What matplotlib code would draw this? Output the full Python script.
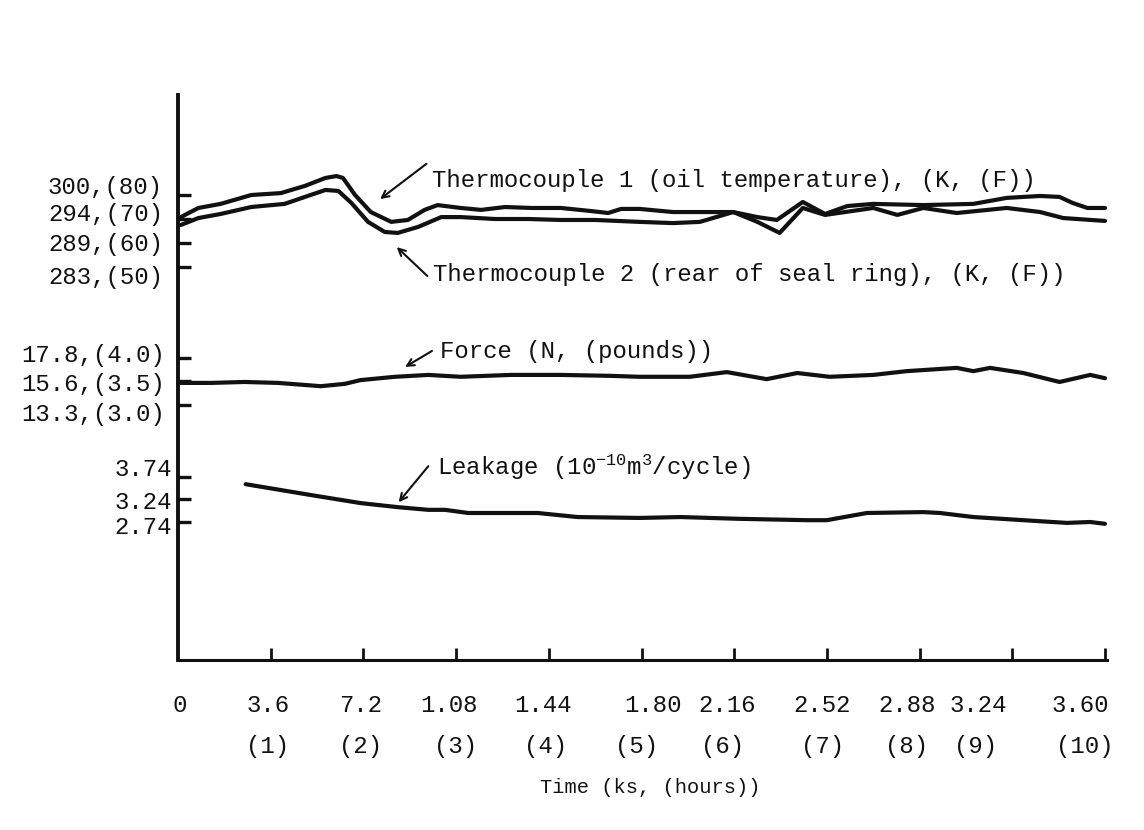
import matplotlib
matplotlib.use("Agg")
import matplotlib.pyplot as plt

plt.rcParams['font.family'] = ['Liberation Mono', 'DejaVu Sans Mono']
plt.rcParams['mathtext.fontset'] = 'custom'
plt.rcParams['mathtext.rm'] = 'Liberation Mono'
plt.rcParams['mathtext.it'] = 'Liberation Mono'
plt.rcParams['mathtext.bf'] = 'Liberation Mono'

# ---------------- data ----------------
# time axis (hours)
hours = [1, 2, 3, 4, 5, 6, 7, 8, 9, 10]
ks_labels = ['0', '3.6', '7.2', '1.08', '1.44', '1.80', '2.16', '2.52', '2.88', '3.24', '3.60']
hour_labels = ['', '(1)', '(2)', '(3)', '(4)', '(5)', '(6)', '(7)', '(8)', '(9)', '(10)']

# thermocouple 1 (oil temperature), deg F
tc1_t = [0.03, 0.22, 0.46, 0.79, 1.11, 1.37, 1.59, 1.71, 1.78, 1.91, 2.08, 2.30, 2.48,
         2.66, 2.80, 3.05, 3.27, 3.53, 3.81, 4.13, 4.46, 4.64, 4.78, 4.98, 5.34, 5.71,
         5.99, 6.25, 6.46, 6.74, 6.98, 7.22, 7.50, 8.04, 8.58, 8.94, 9.30, 9.51, 9.65,
         9.81, 10.0]
tc1_f = [70.8, 74.6, 76.3, 80.0, 80.8, 83.8, 87.1, 87.9, 87.1, 80.0, 72.9, 68.8, 69.6,
         73.8, 75.8, 74.6, 73.8, 75.0, 74.6, 74.6, 73.3, 72.5, 74.2, 74.2, 72.9, 72.9,
         72.9, 70.8, 69.6, 77.1, 72.1, 75.4, 76.3, 75.8, 76.3, 78.8, 79.6, 79.2, 76.7,
         74.6, 74.6]

# thermocouple 2 (rear of seal ring), deg F
tc2_t = [0.03, 0.22, 0.46, 0.79, 1.15, 1.43, 1.59, 1.73, 1.87, 2.05, 2.23, 2.37, 2.59,
         2.84, 3.05, 3.42, 3.78, 4.13, 4.50, 4.98, 5.34, 5.63, 5.99, 6.25, 6.49, 6.74,
         6.98, 7.50, 7.76, 8.04, 8.40, 8.94, 9.30, 9.55, 10.0]
tc2_f = [67.5, 70.4, 72.1, 75.0, 76.3, 80.0, 82.1, 81.7, 76.7, 68.8, 64.6, 64.2, 66.7,
         70.8, 70.8, 70.0, 70.0, 69.6, 69.6, 68.8, 68.3, 68.8, 72.9, 68.8, 64.2, 74.6,
         71.7, 74.6, 71.7, 74.6, 72.5, 74.6, 72.9, 70.4, 69.2]

# force, pounds
force_t = [0.0, 0.36, 0.72, 1.08, 1.54, 1.80, 1.97, 2.34, 2.70, 3.05, 3.59, 4.13, 4.67,
           4.98, 5.52, 5.92, 6.35, 6.68, 7.03, 7.50, 7.86, 8.40, 8.58, 8.76, 9.12, 9.51,
           9.84, 10.0]
force_lb = [3.47, 3.47, 3.49, 3.47, 3.40, 3.45, 3.53, 3.60, 3.64, 3.60, 3.64, 3.64, 3.62,
            3.60, 3.60, 3.70, 3.55, 3.68, 3.60, 3.64, 3.72, 3.79, 3.72, 3.79, 3.68, 3.49,
            3.64, 3.57]

# leakage, 1e-10 m^3/cycle
leak_t = [0.73, 1.43, 1.97, 2.37, 2.70, 2.88, 3.13, 3.59, 3.88, 4.31, 4.98, 5.42, 6.06,
          6.79, 7.00, 7.43, 8.04, 8.22, 8.58, 9.12, 9.59, 9.84, 10.0]
leak_v = [3.58, 3.34, 3.16, 3.07, 3.01, 3.01, 2.94, 2.94, 2.94, 2.85, 2.83, 2.85, 2.81,
          2.78, 2.78, 2.94, 2.96, 2.94, 2.85, 2.78, 2.72, 2.74, 2.70]

# y tick values and labels
temp_ticks = [80, 70, 60, 50]
temp_labels = ['300,(80)', '294,(70)', '289,(60)', '283,(50)']
force_ticks = [4.0, 3.5, 3.0]
force_labels = ['17.8,(4.0)', '15.6,(3.5)', '13.3,(3.0)']
leak_ticks = [3.74, 3.24, 2.74]
leak_labels = ['3.74', '3.24', '2.74']

# ---------------- layout ----------------
W, H = 1144, 830
FS = 17.3
INK = '#111111'
L, R, B, T = 178, 1107, 660, 95

fig = plt.figure(figsize=(W / 100, H / 100), dpi=100)
ax = fig.add_axes([L / W, (H - B) / H, (R - L) / W, (B - T) / H])
ax2 = ax.twinx()
ax3 = ax.twinx()

ax.set_xlim(0, 10 * (R - L) / (1105 - L))
ax.set_ylim(-113.75, 121.67)
ax2.set_ylim(-2.426, 9.596)
ax3.set_ylim(-0.327, 12.229)

for a in (ax, ax2, ax3):
    for s in a.spines.values():
        s.set_visible(False)
    a.patch.set_visible(False)
ax.spines['left'].set_visible(True)
ax.spines['bottom'].set_visible(True)
ax.spines['left'].set_linewidth(2.8)
ax.spines['bottom'].set_linewidth(2.2)
ax.spines['left'].set_color(INK)
ax.spines['bottom'].set_color(INK)

ax.set_xticks(hours)
ax.set_xticklabels([])
ax.tick_params(axis='x', direction='in', length=9, width=2.0, color=INK)

for a, tk in ((ax, temp_ticks), (ax2, force_ticks), (ax3, leak_ticks)):
    a.yaxis.tick_left()
    a.set_yticks(tk)
    a.tick_params(axis='y', direction='in', length=9.5, width=2.4, color=INK,
                  labelleft=False, labelright=False, left=True, right=False)

# curves
for a, xs, ys in ((ax, tc1_t, tc1_f), (ax, tc2_t, tc2_f),
                  (ax2, force_t, force_lb), (ax3, leak_t, leak_v)):
    a.plot(xs, ys, color=INK, lw=3.0, clip_on=False, solid_capstyle='round',
           solid_joinstyle='round')

# y labels (typed next to the axis)
temp_label_y = [83.3, 71.7, 59.2, 45.8]
force_label_y = [4.06, 3.43, 2.79]
leak_label_y = [3.90, 3.18, 2.61]
for a, labs, ys, xr in ((ax, temp_labels, temp_label_y, 163),
                        (ax2, force_labels, force_label_y, 165),
                        (ax3, leak_labels, leak_label_y, 172)):
    for lab, y in zip(labs, ys):
        a.text((xr - L) / (R - L), y, lab, transform=a.get_yaxis_transform(),
               ha='right', va='center', fontsize=FS, color=INK)

# x labels (typed below the axis)
ks_label_x = [0.02, 0.97, 1.97, 2.92, 3.94, 5.12, 5.92, 6.95, 7.87, 8.63, 9.73]
hr_label_x = [0.0, 0.97, 1.97, 2.99, 3.96, 4.95, 5.87, 6.95, 7.86, 8.60, 9.78]
row1 = (B - 705) / (B - T)
row2 = (B - 746) / (B - T)
for x, lab in zip(ks_label_x, ks_labels):
    ax.text(x, row1, lab, transform=ax.get_xaxis_transform(), ha='center', va='center',
            fontsize=FS, color=INK)
for x, lab in zip(hr_label_x, hour_labels):
    if lab:
        ax.text(x, row2, lab, transform=ax.get_xaxis_transform(), ha='center', va='center',
                fontsize=FS, color=INK)
ax.text(((650 - L) / (R - L)), (B - 787) / (B - T), 'Time (ks, (hours))',
        transform=ax.transAxes, ha='center', va='center', fontsize=FS * 0.85, color=INK)

# annotations: text + separate pointer arrow (tail -> head)
arrow = dict(arrowstyle='->,head_length=0.5,head_width=0.25', color=INK, lw=1.5,
             shrinkA=0, shrinkB=0)
ax.text(2.74, 86.25, 'Thermocouple 1 (oil temperature), (K, (F))', ha='left',
        va='center', fontsize=FS, color=INK)
ax.annotate('', xy=(2.18, 78.3), xytext=(2.68, 93.0), arrowprops=arrow)

ax.text(2.75, 46.7, 'Thermocouple 2 (rear of seal ring), (K, (F))', ha='left',
        va='center', fontsize=FS, color=INK)
ax.annotate('', xy=(2.36, 58.3), xytext=(2.69, 46.25), arrowprops=arrow)

ax2.text(2.83, 4.13, 'Force (N, (pounds))', ha='left', va='center', fontsize=FS, color=INK)
ax2.annotate('', xy=(2.45, 3.81), xytext=(2.74, 4.15), arrowprops=arrow)

ax3.text(2.79, 3.96, 'Leakage (10$^{-10}$m$^{3}$/cycle)', ha='left', va='center',
         fontsize=FS, color=INK)
ax3.annotate('', xy=(2.38, 3.18), xytext=(2.70, 3.98), arrowprops=arrow)

fig.savefig('out.png', dpi=100, facecolor='white')
